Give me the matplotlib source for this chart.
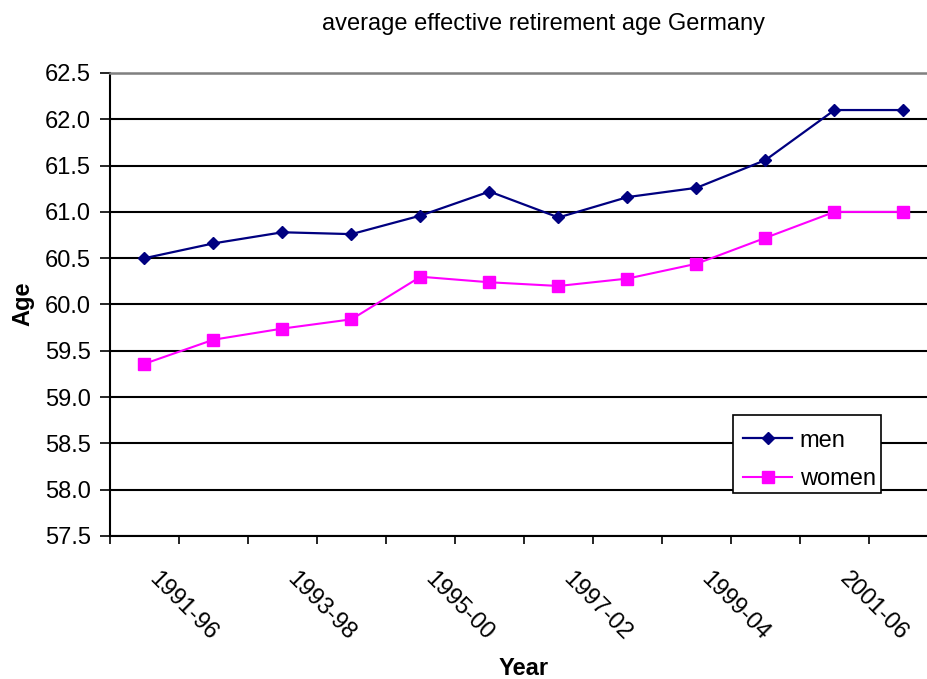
import matplotlib
matplotlib.use("Agg")
import matplotlib.pyplot as plt
from matplotlib.patches import Rectangle
from matplotlib.ticker import FixedLocator, FormatStrFormatter
from matplotlib.transforms import ScaledTranslation

plt.rcParams['font.family'] = ['Liberation Sans', 'DejaVu Sans']

# five-year windows, one point per window
periods = ["1991-96", "1992-97", "1993-98", "1994-99", "1995-00", "1996-01",
           "1997-02", "1998-03", "1999-04", "2000-05", "2001-06", "2002-07"]
men = [60.50, 60.66, 60.78, 60.76, 60.96, 61.22,
       60.94, 61.16, 61.26, 61.56, 62.10, 62.10]
women = [59.36, 59.62, 59.74, 59.84, 60.30, 60.24,
         60.20, 60.28, 60.44, 60.72, 61.00, 61.00]
y_ticks = [57.5, 58.0, 58.5, 59.0, 59.5, 60.0, 60.5, 61.0, 61.5, 62.0, 62.5]

W, H = 928, 679
fig = plt.figure(figsize=(W / 100, H / 100), dpi=100)
ax = fig.add_axes([110 / W, 143 / H, 828 / W, 463 / H])

x = list(range(len(periods)))
ax.plot(x, men, color='#000080', lw=1.6, marker='D', ms=6.3, label='men', zorder=3)
ax.plot(x, women, color='#FF00FF', lw=1.5, marker='s', ms=8, label='women', zorder=3)

ax.set_xlim(-0.5, len(periods) - 0.5)
ax.set_ylim(57.5, 62.5)

# y axis
ax.set_yticks(y_ticks)
ax.yaxis.set_major_formatter(FormatStrFormatter('%.1f'))
ax.tick_params(axis='y', direction='out', length=7.2, width=1.2,
               pad=6.5, labelsize=17, colors='black')
ax.set_axisbelow(True)
ax.grid(axis='y', color='black', lw=1.5)

# x axis: ticks between categories, labels on every second category
ax.xaxis.set_minor_locator(FixedLocator([i - 0.5 for i in range(len(periods) + 1)]))
ax.tick_params(axis='x', which='minor', direction='out', length=6, width=1.2)
ax.set_xticks(x[::2])
ax.set_xticklabels(periods[::2])
ax.tick_params(axis='x', which='major', length=0, pad=23, labelsize=17)
shift = ScaledTranslation(16 / 100, 0, fig.dpi_scale_trans)
for lab in ax.get_xticklabels():
    lab.set_rotation(-45)
    lab.set_rotation_mode('anchor')
    lab.set_ha('left')
    lab.set_va('top')
    lab.set_transform(lab.get_transform() + shift)

for side in ('left', 'bottom'):
    ax.spines[side].set_color('black')
    ax.spines[side].set_linewidth(1.5)
ax.spines['top'].set_color('#808080')
ax.spines['top'].set_linewidth(1.8)
ax.spines['right'].set_visible(False)

fig.text(543 / W, 1 - 30 / H, "average effective retirement age Germany",
         ha='center', va='baseline', fontsize=17)
fig.text(523.5 / W, 4 / H, "Year", ha='center', va='baseline',
         fontsize=17, fontweight='bold')
fig.text(23 / W, 1 - 304 / H, "Age", ha='center', va='center', rotation=90,
         fontsize=17, fontweight='bold')

# legend box drawn separately so the entries can sit a little lower inside it
box = Rectangle(((733 - 110) / 828, (536 - 493) / 463), 148 / 828, 78 / 463,
                transform=ax.transAxes, facecolor='white', edgecolor='black',
                lw=1.2, zorder=4, clip_on=False)
ax.add_patch(box)
leg = ax.legend(loc='lower left', bbox_to_anchor=((733 - 110) / 828, (536 - 500) / 463),
                fontsize=17, frameon=False, handlelength=2.1, handletextpad=0.3,
                labelspacing=0.7, borderpad=0.42, borderaxespad=0)
leg.set_zorder(5)

fig.savefig("out.png", dpi=100)
